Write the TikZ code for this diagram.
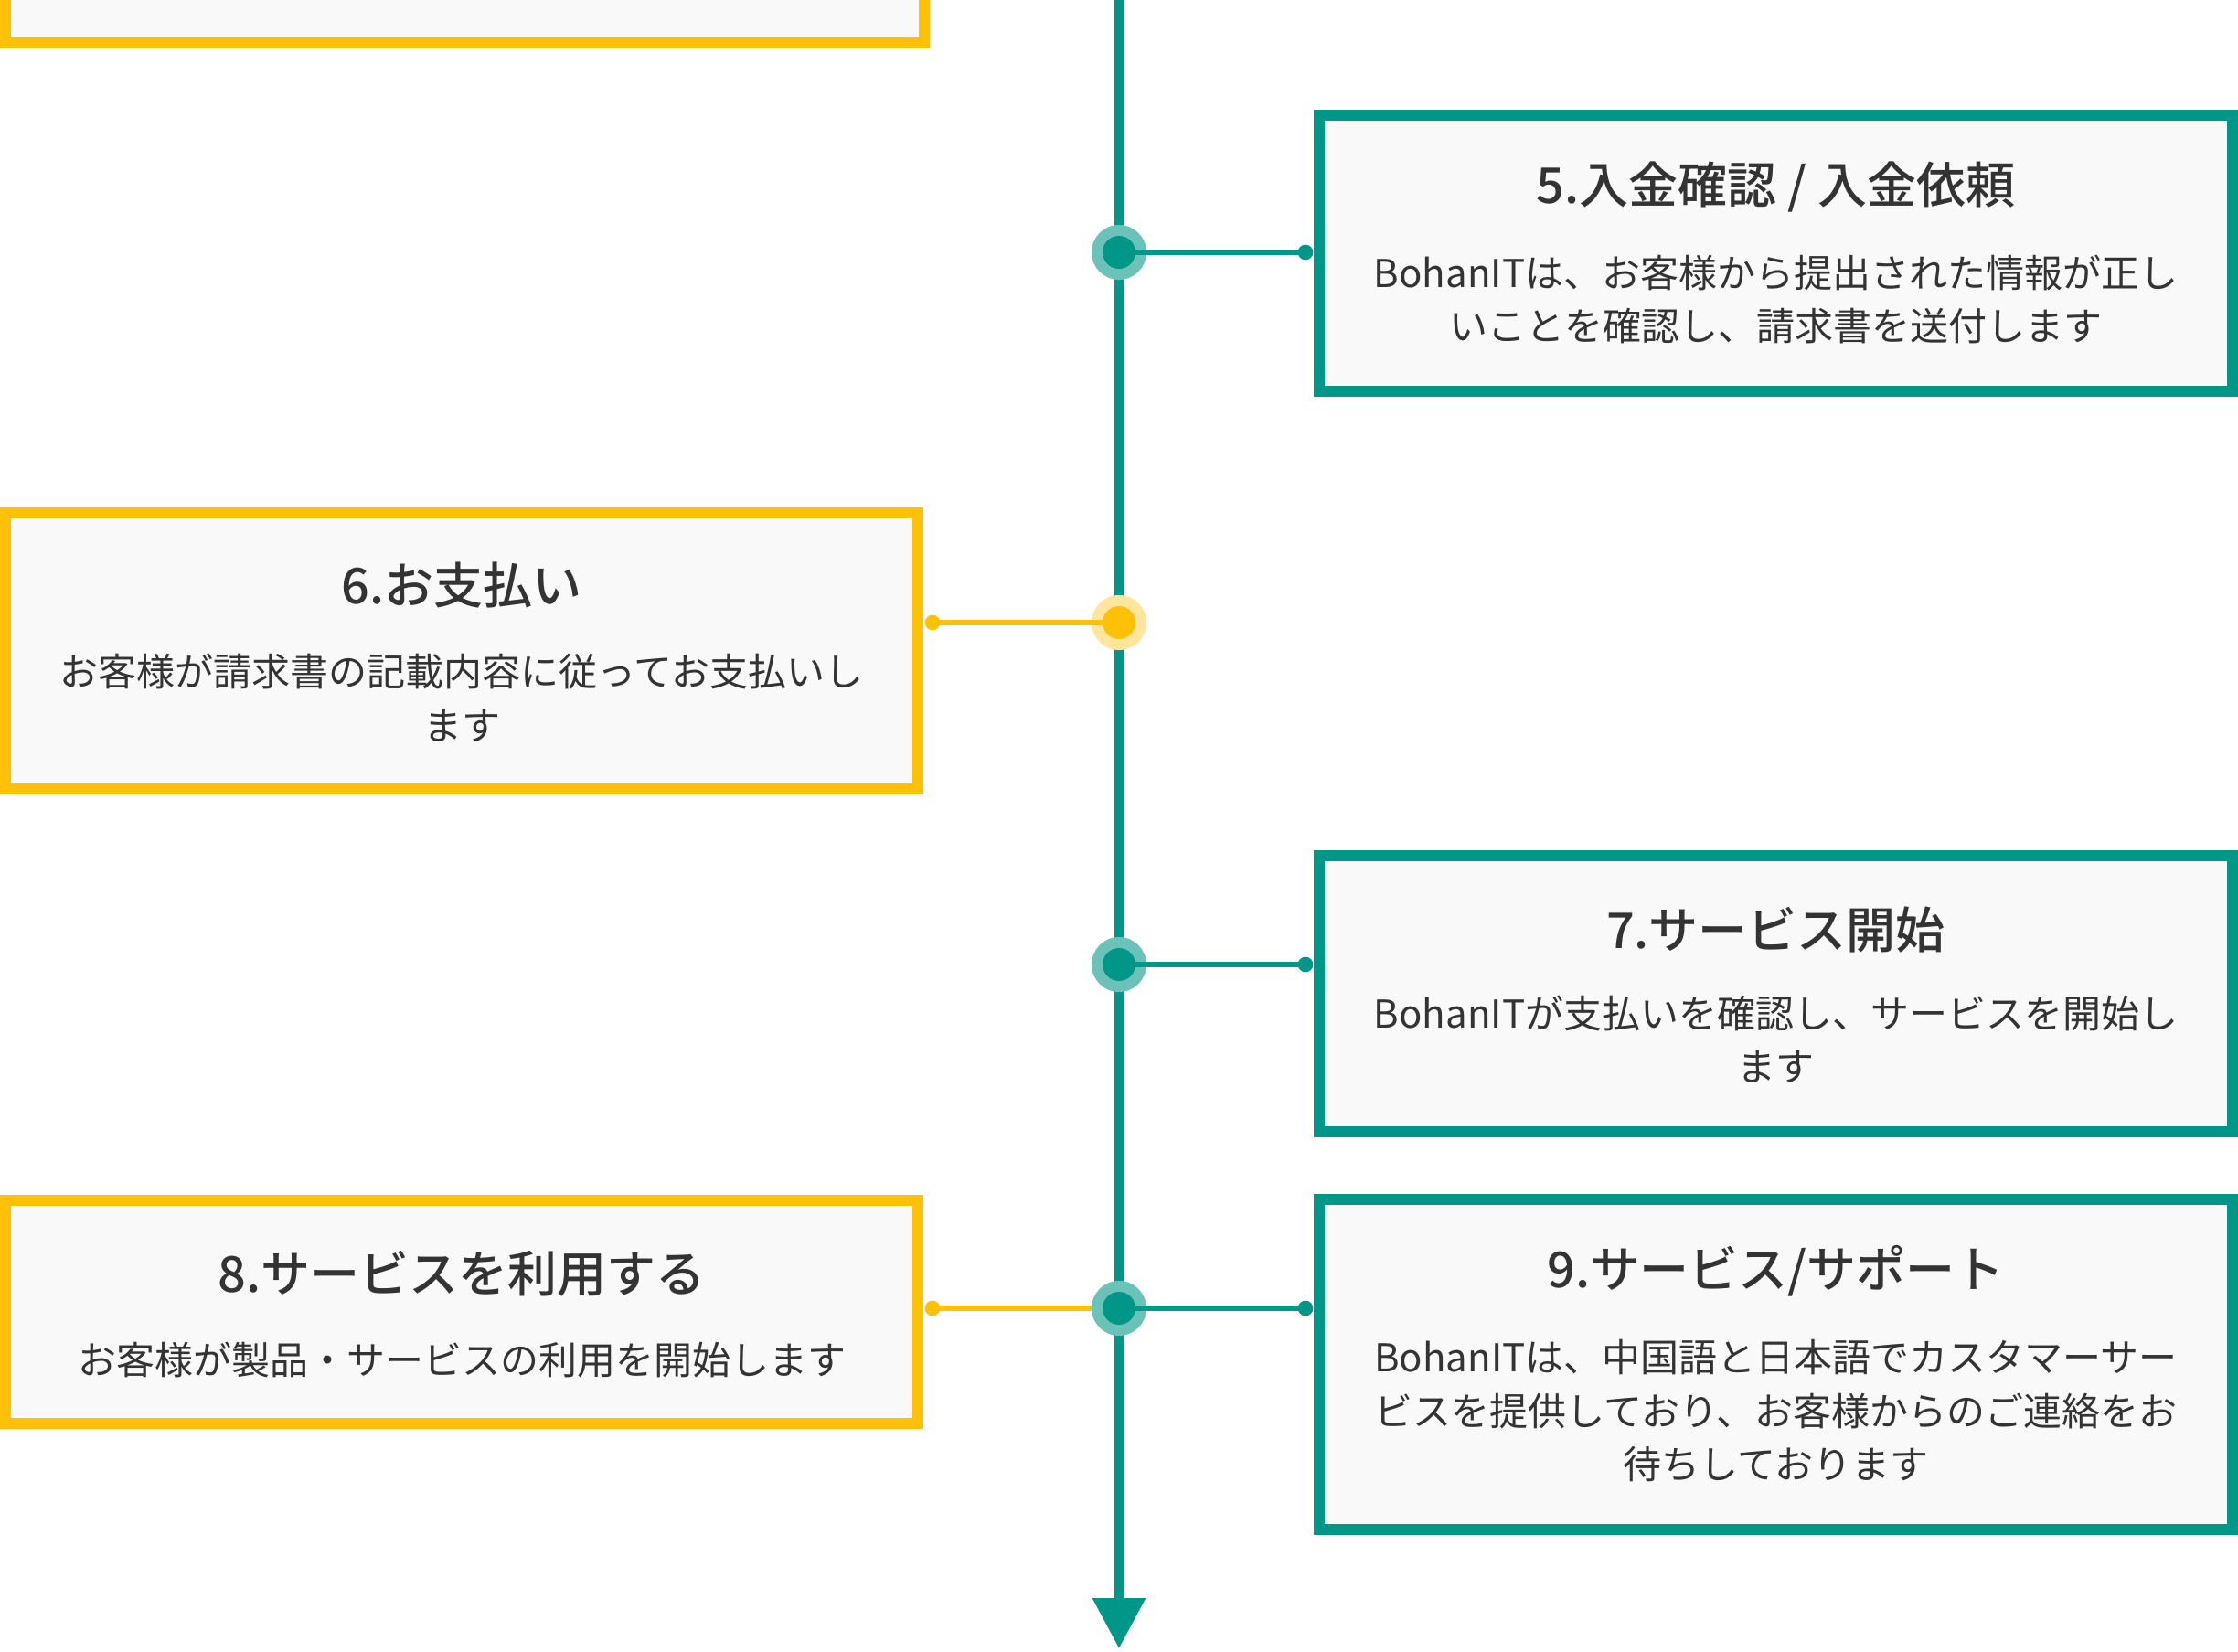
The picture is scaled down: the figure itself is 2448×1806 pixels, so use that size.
\documentclass[tikz,border=0pt]{standalone}
\usepackage{fontspec}
\setmainfont{Noto Sans CJK JP}
\newfontfamily\titlefont{Noto Sans CJK JP Medium}
\usetikzlibrary{arrows.meta}
\definecolor{tealmain}{HTML}{009688}
\definecolor{tealring}{HTML}{6BC2B8}
\definecolor{ambermain}{HTML}{FFC107}
\definecolor{amberring}{HTML}{FFE69C}
\definecolor{boxfill}{HTML}{F9F9F9}
\definecolor{txt}{HTML}{333333}
\begin{document}
\begin{tikzpicture}[x=0.3pt,y=-0.3pt,
  tbox/.style={draw=tealmain,line width=3.6pt,fill=boxfill,inner sep=0pt,rectangle},
  ybox/.style={draw=ambermain,line width=3.6pt,fill=boxfill,inner sep=0pt,rectangle},
  ringst/.style={circle,inner sep=0pt,draw=none,minimum size=18pt},
  corest/.style={circle,inner sep=0pt,draw=none,minimum size=10.8pt},
  dotst/.style={circle,inner sep=0pt,draw=none,minimum size=5pt},
  tline/.style={tealmain,line width=1.8pt},
  yline/.style={ambermain,line width=1.8pt},
  titlest/.style={text=txt,inner sep=0pt,font=\fontsize{16.2pt}{20pt}\selectfont\titlefont},
  bodyst/.style={text=txt,inner sep=0pt,align=center,font=\fontsize{12.6pt}{17.5pt}\selectfont}]
\clip (0,0) rectangle (2448,1806);
\fill[white] (0,0) rectangle (2448,1806);

% timeline
\coordinate (ltop) at (1224,0);
\coordinate (lend) at (1224,1803);
\draw[tealmain,line width=2.8pt,-{Triangle[length=16.5pt,width=16.8pt]}] (ltop) -- (lend);

% boxes
\node[ybox,minimum width=301.5pt,minimum height=74.1pt] (b4) at (508.5,-76.5) {};
\node[tbox,minimum width=299.7pt,minimum height=90.6pt] (b5) at (1942.5,277) {};
\node[ybox,minimum width=299.4pt,minimum height=90.6pt] (b6) at (505,712) {};
\node[tbox,minimum width=299.7pt,minimum height=90.6pt] (b7) at (1942.5,1087) {};
\node[ybox,minimum width=299.4pt,minimum height=73.2pt] (b8) at (505,1435) {};
\node[tbox,minimum width=299.7pt,minimum height=108.3pt] (b9) at (1942.5,1492.5) {};

% dots at box sides
\node[dotst,fill=tealmain] (d5) at (1428,276) {};
\node[dotst,fill=ambermain] (d6) at (1020,681) {};
\node[dotst,fill=tealmain] (d7) at (1428,1055) {};
\node[dotst,fill=ambermain] (d8) at (1020,1431) {};
\node[dotst,fill=tealmain] (d9) at (1428,1431) {};

% yellow connector of row 8 (below the ring)
\coordinate (m8) at (1224,1431);
\draw[yline] (d8.center) -- (m8);

% rings
\node[ringst,fill=tealring] (r5) at (1224,276) {};
\node[ringst,fill=amberring] (r6) at (1224,681) {};
\node[ringst,fill=tealring] (r7) at (1224,1055) {};
\node[ringst,fill=tealring] (r9) at (1224,1431) {};

% connectors
\draw[tline] (r5.center) -- (d5.center);
\draw[yline] (r6.center) -- (d6.center);
\draw[tline] (r7.center) -- (d7.center);
\draw[tline] (r9.center) -- (d9.center);

% cores
\node[corest,fill=tealmain] (c5) at (r5.center) {};
\node[corest,fill=ambermain] (c6) at (r6.center) {};
\node[corest,fill=tealmain] (c7) at (r7.center) {};
\node[corest,fill=tealmain] (c9) at (r9.center) {};

% texts
\node[titlest] (t5) at (1942.5,205) {5.入金確認 / 入金依頼};
\node[bodyst] (x5) at (1942.5,327.5) {BohanITは、お客様から提出された情報が正し\\いことを確認し、請求書を送付します};

\node[titlest] (t6) at (505,640) {6.お支払い};
\node[bodyst] (x6) at (505,763.5) {お客様が請求書の記載内容に従ってお支払いし\\ます};

\node[titlest] (t7) at (1942.5,1017) {7.サービス開始};
\node[bodyst] (x7) at (1942.5,1137) {BohanITが支払いを確認し、サービスを開始し\\ます};

\node[titlest] (t8) at (505,1393) {8.サービスを利用する};
\node[bodyst] (x8) at (505,1487) {お客様が製品・サービスの利用を開始します};

\node[titlest] (t9) at (1942.5,1390) {9.サービス/サポート};
\node[bodyst] (x9) at (1942.5,1543) {BohanITは、中国語と日本語でカスタマーサー\\ビスを提供しており、お客様からのご連絡をお\\待ちしております};
\end{tikzpicture}
\end{document}
